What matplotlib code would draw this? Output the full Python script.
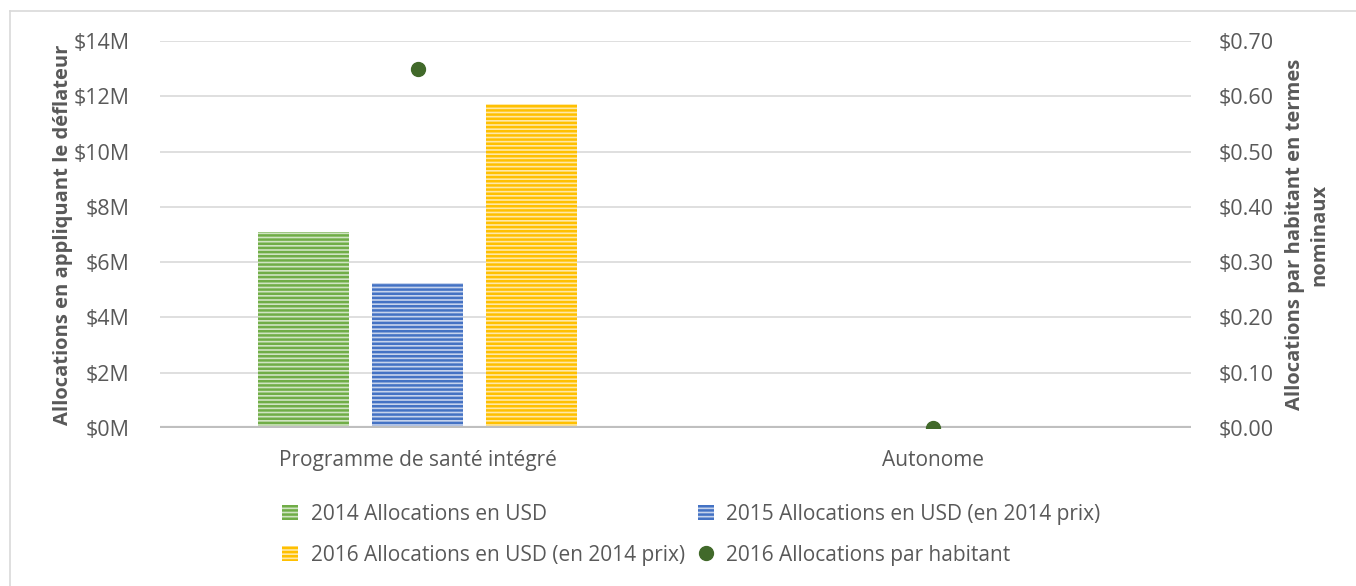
import numpy as np
import matplotlib
matplotlib.use("Agg")
import matplotlib.pyplot as plt
from matplotlib.lines import Line2D

# data
categories = ["Programme de santé intégré", "Autonome"]
alloc_2014 = [7.1, 0.0]          # $M
alloc_2015 = [5.25, 0.0]         # $M (2014 prices)
alloc_2016 = [11.72, 0.0]        # $M (2014 prices)
per_capita_2016 = [0.65, 0.0]    # $ per inhabitant
left_ticks = [0, 2, 4, 6, 8, 10, 12, 14]
right_ticks = [0.0, 0.1, 0.2, 0.3, 0.4, 0.5, 0.6, 0.7]

labels = ["2014 Allocations en USD",
          "2015 Allocations en USD (en 2014 prix)",
          "2016 Allocations en USD (en 2014 prix)",
          "2016 Allocations par habitant"]

plt.rcParams["font.family"] = ["Open Sans", "DejaVu Sans"]
plt.rcParams["hatch.linewidth"] = 1.8
text_col = "#595959"

colors = ["#70AD47", "#4472C4", "#FFC000"]
tints = ["#D0E4C2", "#C6D3EC", "#FFE8A6"]
dot_col = "#41692A"

fig = plt.figure(figsize=(13.56, 5.86), dpi=100)
ax = fig.add_axes([160 / 1356, 1 - 428 / 586, 1031 / 1356, 387 / 586])
ax2 = ax.twinx()

x = np.arange(len(categories))
width = 0.1765
offset = 0.221
handles = []
for i, vals in enumerate([alloc_2014, alloc_2015, alloc_2016]):
    b = ax.bar(x + (i - 1) * offset, vals, width, color=tints[i],
               edgecolor=colors[i], linewidth=0, hatch="----", zorder=3)
    handles.append(b)

ax2.plot(x, per_capita_2016, "o", color=dot_col, markersize=10, zorder=5)

ax.set_xlim(-0.5, 1.5)
ax.set_ylim(0, 14)
ax2.set_ylim(0, 0.7)
ax.set_yticks(left_ticks)
ax.set_yticklabels([f"${v}M" for v in left_ticks])
ax2.set_yticks(right_ticks)
ax2.set_yticklabels([f"${v:.2f}" for v in right_ticks])
ax.set_xticks(x)
ax.set_xticklabels(categories)

ax.grid(axis="y", color="#D9D9D9", linewidth=1.2, zorder=0)
ax.set_axisbelow(True)
ax.axhline(0, color="#BFBFBF", linewidth=3, zorder=4)

for a in (ax, ax2):
    for s in a.spines.values():
        s.set_visible(False)
    a.tick_params(length=0, labelsize=15.5, colors=text_col)
ax.tick_params(axis="x", labelsize=15, pad=16)
ax.tick_params(axis="y", pad=22)
ax2.tick_params(axis="y", pad=20)

ax.set_ylabel("Allocations en appliquant le déflateur", fontsize=14.5,
              fontweight="bold", color=text_col, labelpad=0)
ax2.set_ylabel("Allocations par habitant en termes\nnominaux", fontsize=14.5,
               fontweight="bold", color=text_col, labelpad=8,
               rotation=90, linespacing=1.3)

dot_handle = Line2D([], [], marker="o", linestyle="none", color=dot_col,
                    markersize=10)
leg_handles = [handles[0], handles[2], handles[1], dot_handle]
leg_labels = [labels[0], labels[2], labels[1], labels[3]]
fig.legend(leg_handles, leg_labels, loc="upper center",
           bbox_to_anchor=(0.510, 0.172), ncol=2, frameon=False,
           fontsize=15, labelcolor=text_col, handlelength=0.75,
           handleheight=0.75, handletextpad=0.6, columnspacing=0.65,
           labelspacing=0.95)

# light frame around the chart
fig.add_artist(Line2D([10 / 1356, 10 / 1356], [0, 1 - 11 / 586],
                      color="#D9D9D9", linewidth=1.2))
fig.add_artist(Line2D([10 / 1356, 1], [1 - 11 / 586, 1 - 11 / 586],
                      color="#D9D9D9", linewidth=1.2))

fig.savefig("out.png", dpi=100)
